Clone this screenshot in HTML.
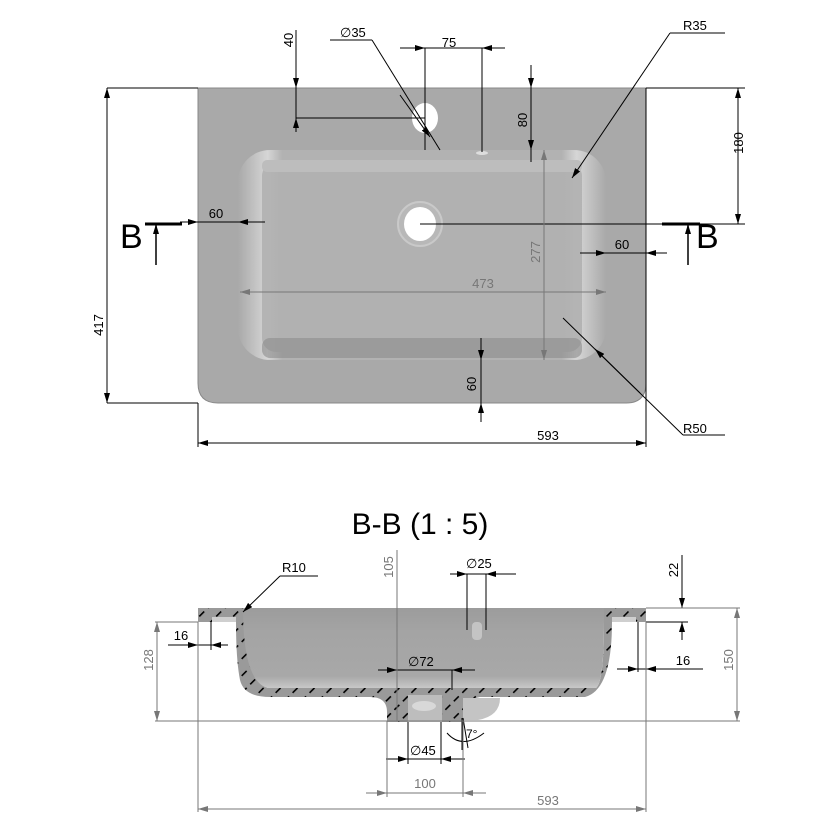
<!DOCTYPE html>
<html><head><meta charset="utf-8"><style>
html,body{margin:0;padding:0;background:#fff}
svg{display:block}
text{font-family:"Liberation Sans",Arial,sans-serif}
</style></head><body>
<svg width="834" height="834" viewBox="0 0 834 834" xmlns="http://www.w3.org/2000/svg">
<defs>
<marker id="a" viewBox="0 0 10 6" refX="10" refY="3" markerWidth="10" markerHeight="6" orient="auto-start-reverse" markerUnits="userSpaceOnUse"><path d="M0,0L10,3L0,6z" fill="#000"/></marker>
<marker id="g" viewBox="0 0 10 6" refX="10" refY="3" markerWidth="10" markerHeight="6" orient="auto-start-reverse" markerUnits="userSpaceOnUse"><path d="M0,0L10,3L0,6z" fill="#777"/></marker>
<pattern id="h" width="12" height="12" patternUnits="userSpaceOnUse" patternTransform="rotate(45)"><rect width="12" height="12" fill="#9a9a9a"/><rect x="0" y="0" width="1.6" height="7" fill="#000"/></pattern>
<linearGradient id="bw" x1="0" x2="1"><stop offset="0" stop-color="#a9a9a9"/><stop offset="0.08" stop-color="#d6d6d6"/><stop offset="0.12" stop-color="#b2b2b2"/><stop offset="0.88" stop-color="#b2b2b2"/><stop offset="0.92" stop-color="#d6d6d6"/><stop offset="1" stop-color="#a9a9a9"/></linearGradient>
<linearGradient id="bv" x1="0" y1="0" x2="0" y2="1"><stop offset="0" stop-color="#9c9c9c"/><stop offset="0.3" stop-color="#a4a4a4"/><stop offset="0.85" stop-color="#a8a8a8"/><stop offset="1" stop-color="#c8c8c8"/></linearGradient>
</defs>

<!-- TOP VIEW -->
<path d="M198,88 H646 V383 Q646,403 626,403 H218 Q198,403 198,383 Z" fill="#a9a9a9" stroke="#888" stroke-width="1"/>
<rect x="238" y="150" width="368" height="210" rx="32" fill="url(#bw)"/>
<rect x="262" y="162" width="320" height="190" rx="14" fill="#b0b0b0" opacity="0.9"/>
<rect x="262" y="338" width="320" height="20" rx="8" fill="#8c8c8c" opacity="0.6"/>
<rect x="262" y="160" width="320" height="12" rx="5" fill="#bdbdbd"/>
<circle cx="420" cy="224" r="22" fill="#b8b8b8" stroke="#c9c9c9" stroke-width="2"/>
<ellipse cx="420" cy="224" rx="16" ry="17" fill="#fff"/>
<ellipse cx="425" cy="118" rx="13" ry="15" fill="#fff"/>
<ellipse cx="482" cy="153" rx="6" ry="2" fill="#ddd"/>

<g stroke="#000" stroke-width="1" fill="none">
<line x1="107" y1="88" x2="198" y2="88"/><line x1="107" y1="403" x2="198" y2="403"/>
<line x1="107" y1="88" x2="107" y2="403" marker-start="url(#a)" marker-end="url(#a)"/>
<line x1="198" y1="403" x2="198" y2="447"/><line x1="646" y1="88" x2="646" y2="447"/>
<line x1="198" y1="443" x2="646" y2="443" marker-start="url(#a)" marker-end="url(#a)"/>
<line x1="646" y1="88" x2="745" y2="88"/><line x1="420" y1="224" x2="745" y2="224"/>
<line x1="738" y1="88" x2="738" y2="224" marker-start="url(#a)" marker-end="url(#a)"/>
<line x1="296" y1="30" x2="296" y2="118"/><line x1="296" y1="118" x2="425" y2="118"/>
<line x1="296" y1="75" x2="296" y2="88" marker-end="url(#a)"/><line x1="296" y1="132" x2="296" y2="118" marker-end="url(#a)"/>
<line x1="330" y1="40" x2="372" y2="40"/><line x1="372" y1="40" x2="440" y2="150"/>
<line x1="400" y1="95" x2="430" y2="137" marker-end="url(#a)"/>
<line x1="425" y1="48" x2="425" y2="150"/><line x1="482" y1="48" x2="482" y2="152"/>
<line x1="400" y1="48" x2="505" y2="48"/>
<line x1="405" y1="48" x2="425" y2="48" marker-end="url(#a)"/><line x1="502" y1="48" x2="482" y2="48" marker-end="url(#a)"/>
<line x1="531" y1="65" x2="531" y2="162"/>
<line x1="531" y1="70" x2="531" y2="88" marker-end="url(#a)"/><line x1="531" y1="140" x2="531" y2="150" marker-end="url(#a)"/>
<line x1="670" y1="33" x2="725" y2="33"/><line x1="670" y1="33" x2="572" y2="178" marker-end="url(#a)"/>
<line x1="683" y1="435" x2="725" y2="435"/><line x1="683" y1="435" x2="563" y2="318"/>
<line x1="640" y1="393" x2="595" y2="349" marker-end="url(#a)"/>
<line x1="180" y1="222" x2="265" y2="222"/>
<line x1="182" y1="222" x2="198" y2="222" marker-end="url(#a)"/><line x1="262" y1="222" x2="238" y2="222" marker-end="url(#a)"/>
<line x1="580" y1="253" x2="667" y2="253"/>
<line x1="582" y1="253" x2="606" y2="253" marker-end="url(#a)"/><line x1="665" y1="253" x2="646" y2="253" marker-end="url(#a)"/>
<line x1="481" y1="338" x2="481" y2="422"/>
<line x1="481" y1="340" x2="481" y2="360" marker-end="url(#a)"/><line x1="481" y1="420" x2="481" y2="403" marker-end="url(#a)"/>
<line x1="145" y1="224" x2="182" y2="224" stroke-width="3"/>
<line x1="156" y1="265" x2="156" y2="224" marker-end="url(#a)" stroke-width="1.5"/>
<line x1="662" y1="224" x2="700" y2="224" stroke-width="3"/>
<line x1="688" y1="265" x2="688" y2="224" marker-end="url(#a)" stroke-width="1.5"/>
</g>
<g stroke="#777" stroke-width="1" fill="none">
<line x1="544" y1="150" x2="544" y2="360" marker-start="url(#g)" marker-end="url(#g)"/>
<line x1="240" y1="292" x2="606" y2="292" marker-start="url(#g)" marker-end="url(#g)"/>
</g>
<g font-size="13" fill="#000">
<text x="216" y="218" text-anchor="middle">60</text>
<text x="622" y="249" text-anchor="middle">60</text>
<text x="449" y="47" text-anchor="middle">75</text>
<text x="340" y="37">∅35</text>
<text x="683" y="30">R35</text>
<text x="683" y="433">R50</text>
<text x="548" y="440" text-anchor="middle">593</text>
<text transform="translate(293,40) rotate(-90)" text-anchor="middle">40</text>
<text transform="translate(527,120) rotate(-90)" text-anchor="middle">80</text>
<text transform="translate(476,384) rotate(-90)" text-anchor="middle">60</text>
<text transform="translate(743,143) rotate(-90)" text-anchor="middle">180</text>
<text transform="translate(103,325) rotate(-90)" text-anchor="middle">417</text>
</g>
<text x="483" y="288" font-size="13" fill="#777" text-anchor="middle">473</text>
<text transform="translate(540,252) rotate(-90)" font-size="13" fill="#777" text-anchor="middle">277</text>
<text x="120" y="248" font-size="34" fill="#000">B</text>
<text x="696" y="248" font-size="34" fill="#000">B</text>

<!-- SECTION -->
<text x="420" y="534" font-size="30" text-anchor="middle" fill="#000">B-B (1 : 5)</text>
<path d="M198,608 H248 V622 H246 Q248,682 268,688 H596 Q604,682 604,622 H598 V608 H646 V622 H612 Q612,690 585,697 H480 Q463,700 463,712 V722 H442 V698 H408 V722 H387 V712 Q387,697 370,697 H270 Q244,697 240,680 Q236,660 236,622 H198 Z" fill="url(#h)"/>
<path d="M243,608 Q243,682 268,688 H596 Q604,682 604,620 L604,608 Z" fill="url(#bv)"/>
<rect x="408" y="695" width="34" height="27" fill="#bdbdbd"/>
<ellipse cx="424" cy="706" rx="12" ry="5" fill="#d8d8d8"/>
<path d="M463,698 H500 Q500,716 478,720 H463 Z" fill="#c4c4c4"/>
<rect x="472" y="622" width="10" height="18" rx="4" fill="#c4c4c4"/>
<rect x="212" y="617" width="24" height="5" fill="#cfcfcf"/>
<rect x="612" y="617" width="24" height="5" fill="#cfcfcf"/>

<g stroke="#000" stroke-width="1" fill="none">
<line x1="280" y1="576" x2="318" y2="576"/><line x1="280" y1="576" x2="243" y2="612" marker-end="url(#a)"/>
<line x1="211" y1="622" x2="211" y2="650"/>
<line x1="168" y1="645" x2="228" y2="645"/>
<line x1="180" y1="645" x2="198" y2="645" marker-end="url(#a)"/><line x1="226" y1="645" x2="211" y2="645" marker-end="url(#a)"/>
<line x1="638" y1="622" x2="638" y2="672"/>
<line x1="617" y1="669" x2="703" y2="669"/>
<line x1="620" y1="669" x2="638" y2="669" marker-end="url(#a)"/><line x1="665" y1="669" x2="646" y2="669" marker-end="url(#a)"/>
<line x1="646" y1="622" x2="688" y2="622"/>
<line x1="682" y1="555" x2="682" y2="608" marker-end="url(#a)"/>
<line x1="682" y1="640" x2="682" y2="622" marker-end="url(#a)"/>
<line x1="467" y1="574" x2="467" y2="630"/><line x1="486" y1="574" x2="486" y2="630"/>
<line x1="450" y1="574" x2="516" y2="574"/>
<line x1="452" y1="574" x2="467" y2="574" marker-end="url(#a)"/><line x1="502" y1="574" x2="486" y2="574" marker-end="url(#a)"/>
<line x1="378" y1="670" x2="475" y2="670"/>
<line x1="380" y1="670" x2="397" y2="670" marker-end="url(#a)"/><line x1="473" y1="670" x2="452" y2="670" marker-end="url(#a)"/>
<line x1="452" y1="670" x2="452" y2="690"/>
<line x1="408" y1="722" x2="408" y2="764"/><line x1="441" y1="722" x2="441" y2="764"/>
<line x1="386" y1="759" x2="465" y2="759"/>
<line x1="390" y1="759" x2="408" y2="759" marker-end="url(#a)"/><line x1="460" y1="759" x2="441" y2="759" marker-end="url(#a)"/>
<line x1="462" y1="718" x2="462" y2="750"/><line x1="463" y1="718" x2="468" y2="748"/>
<path d="M447,733 Q462,750 484,733"/>
</g>
<g stroke="#777" stroke-width="1" fill="none">
<line x1="155" y1="622" x2="198" y2="622"/>
<line x1="155" y1="721" x2="740" y2="721"/>
<line x1="646" y1="608" x2="740" y2="608"/>
<line x1="157" y1="622" x2="157" y2="721" marker-start="url(#g)" marker-end="url(#g)"/>
<line x1="737" y1="608" x2="737" y2="721" marker-start="url(#g)" marker-end="url(#g)"/>
<line x1="397" y1="550" x2="397" y2="721"/>
<line x1="198" y1="622" x2="198" y2="812"/><line x1="646" y1="622" x2="646" y2="812"/>
<line x1="198" y1="809" x2="646" y2="809" marker-start="url(#g)" marker-end="url(#g)"/>
<line x1="387" y1="721" x2="387" y2="797"/><line x1="463" y1="721" x2="463" y2="797"/>
<line x1="366" y1="793" x2="486" y2="793"/>
<line x1="368" y1="793" x2="387" y2="793" marker-end="url(#g)"/><line x1="484" y1="793" x2="463" y2="793" marker-end="url(#g)"/>
</g>
<g font-size="13" fill="#000">
<text x="282" y="572">R10</text>
<text x="181" y="640" text-anchor="middle">16</text>
<text x="683" y="665" text-anchor="middle">16</text>
<text x="466" y="568">∅25</text>
<text x="408" y="666">∅72</text>
<text x="410" y="755">∅45</text>
<text x="466" y="738" font-size="12">7°</text>
<text transform="translate(678,570) rotate(-90)" text-anchor="middle">22</text>
</g>
<g font-size="13" fill="#777">
<text x="425" y="788" text-anchor="middle">100</text>
<text x="548" y="805" text-anchor="middle">593</text>
<text transform="translate(153,660) rotate(-90)" text-anchor="middle">128</text>
<text transform="translate(733,660) rotate(-90)" text-anchor="middle">150</text>
<text transform="translate(393,567) rotate(-90)" text-anchor="middle">105</text>
</g>
</svg>
</body></html>
